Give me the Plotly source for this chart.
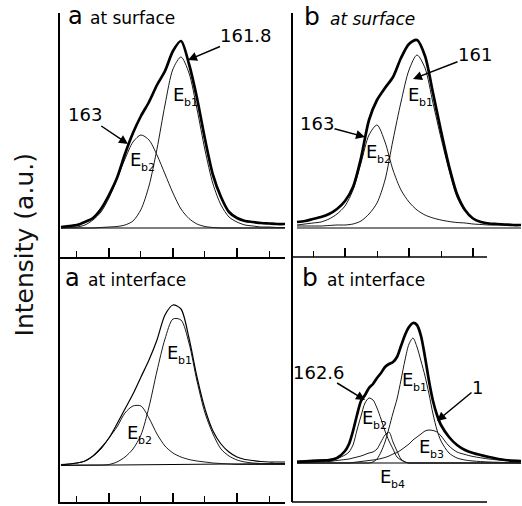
import plotly.graph_objects as go

W, H = 522, 506

# ---------------- data (binding energy, eV ; intensity, a.u.) ----------------
ENERGY = [165.5, 165.25, 165.0, 164.75, 164.5, 164.25, 164.0, 163.75, 163.5, 163.25,
          163.0, 162.75, 162.5, 162.25, 162.0, 161.75, 161.5, 161.25, 161.0, 160.75,
          160.5, 160.25, 160.0, 159.75, 159.5, 159.25, 159.0, 158.75, 158.5]

# a at surface
A_SURF_ENV = [1, 2, 3, 6, 10, 19, 33, 50, 74, 95, 112, 126, 143, 157, 177, 187, 164, 130,
              89, 53, 31, 16, 10, 7, 6, 5, 4.5, 4, 4]
A_SURF_EB1 = [0, 0, 0, 0, 0, 0.5, 1, 1.5, 3, 7, 18.5, 42, 79, 123, 159, 171, 155, 119,
              78, 44, 23, 11, 6, 3, 2, 1, 1, 0.5, 0.5]
A_SURF_EB2 = [0, 0.5, 1, 3, 8, 16, 30, 49, 69, 86, 93, 88, 73, 54, 35, 19, 9.5, 4,
              1.5, 0.5, 0, 0, 0, 0, 0, 0, 0, 0, 0]
A_SURF_BASE = [0, 0]

# b at surface
B_SURF_ENV = [6, 7, 9, 11, 14, 19, 27, 41, 70, 108, 128, 140, 151, 170, 184, 188, 172, 135,
              97, 62, 34, 18, 9.5, 6, 4.5, 4, 3.5, 3, 3]
B_SURF_EB1 = [2, 2, 2, 2, 2.5, 3, 3, 4, 7, 14, 25, 48, 88, 126, 158, 173, 160, 125,
              90, 58, 31, 17, 10, 6, 4, 3.5, 3, 3, 3]
B_SURF_EB2 = [3, 4, 5, 6, 9, 14, 22, 38, 65, 93, 103, 86, 58, 38, 26, 18, 13, 10,
              8, 6.5, 5.5, 5, 4, 3.5, 3, 3, 3, 3, 3]
B_SURF_BASE = [0, 0]

# a at interface
A_INT_ENV = [0, 1, 2, 4, 9, 17, 27, 41, 56, 71, 88, 105, 125, 150, 160, 156, 127, 88,
             56, 34, 21, 13, 8, 5.5, 4.5, 3.5, 3, 3, 3]
A_INT_EB1 = [0, 0, 0, 0, 0, 0, 0.5, 3, 8, 16, 30, 58, 94, 126, 146, 145, 122, 84,
             52, 31, 16, 9, 5, 3, 2, 1.5, 1, 1, 1]
A_INT_EB2 = [0.5, 1, 2, 4, 9, 16, 27, 38, 52, 59, 59, 47, 31, 19, 12, 8, 5.5, 4,
             3, 2, 1.5, 1, 0.5, 0.5, 0.5, 0.5, 0.5, 0.5, 0.5]
A_INT_BASE = [-0.5, 1.5]

# b at interface (finer energy grid around the peaks)
ENERGY_BI = [165.5, 165.0, 164.5, 164.25, 164.0, 163.875, 163.75, 163.625, 163.5, 163.375,
             163.25, 163.125, 163.0, 162.875, 162.75, 162.625, 162.5, 162.375, 162.25, 162.125,
             162.0, 161.875, 161.75, 161.625, 161.5, 161.375, 161.25, 161.125, 161.0, 160.75,
             160.5, 160.25, 160.0, 159.5, 159.0, 158.5]
B_INT_ENV = [1, 2, 3, 5, 12, 19, 32, 48, 62, 68, 75, 79, 85, 90, 96, 99, 101, 106, 117, 128,
             136, 140, 138, 127, 106, 82, 62, 48, 38, 26, 18, 13, 10, 6, 3, 2]
B_INT_EB1 = [0, 0, 0, 0, 0, 0, 0, 0, 0, 0, 0, 1, 4, 11, 21, 35, 50, 64, 83, 103,
             119, 125, 116, 102, 87, 69, 49, 33, 22, 10, 5, 3, 2, 1, 0.5, 0]
B_INT_EB2 = [2, 3, 3.5, 4.5, 8, 11, 18, 33, 47, 60, 65, 63, 55, 44, 32, 22, 14, 6, 3, 1,
             0, 0, 0, 0, 0, 0, 0, 0, 0, 0, 0, 0, 0, 0, 0, 0]
B_INT_EB3 = [0, 0, 0, 0, 0, 0, 0.5, 1, 1.5, 2, 2.5, 3, 3.5, 4.5, 5.5, 7, 9, 10.5, 13, 16,
             19, 23, 26, 29, 32, 33, 32.5, 31, 27, 17, 11, 8.5, 6.5, 4, 2.5, 2]
B_INT_EB4 = [0.5, 1, 1.5, 2.5, 3.5, 4, 5, 6, 7, 8.5, 10, 11, 14, 21, 28, 31, 21, 12, 4, 1,
             0, 0, 0, 0, 0, 0, 0, 0, 0, 0, 0, 0, 0, 0, 0, 0]
B_INT_BASE = [0, 0]

MAJOR_TICKS = [164, 162, 160]
MINOR_TICKS_L = [165, 163, 161, 159]
MINOR_TICKS_R = [165, 163, 161]

FONT = "DejaVu Sans"
BLACK = "#000000"
THIN_C = "#1a1a1a"
THICK, THIN = 2.7, 1.0


def fx(px):
    return px / W


def fy(py):
    return 1 - py / H


fig = go.Figure()


def curve(x, y, xa, ya, width, color=BLACK):
    fig.add_trace(go.Scatter(x=x, y=y, xaxis=xa, yaxis=ya, mode="lines",
                             line=dict(color=color, width=width, shape="spline", smoothing=0.8),
                             hoverinfo="skip", showlegend=False))


ends = [ENERGY[0], ENERGY[-1]]
# panel a at surface
curve(ends, A_SURF_BASE, "x", "y", 1.2)
curve(ENERGY, A_SURF_EB2, "x", "y", THIN, THIN_C)
curve(ENERGY, A_SURF_EB1, "x", "y", THIN, THIN_C)
curve(ENERGY, A_SURF_ENV, "x", "y", THICK)
# panel b at surface
curve(ends, B_SURF_BASE, "x2", "y2", 1.2)
curve(ENERGY, B_SURF_EB2, "x2", "y2", THIN, THIN_C)
curve(ENERGY, B_SURF_EB1, "x2", "y2", THIN, THIN_C)
curve(ENERGY, B_SURF_ENV, "x2", "y2", THICK)
# panel a at interface
curve(ends, A_INT_BASE, "x3", "y3", 1.1)
curve(ENERGY, A_INT_EB2, "x3", "y3", THIN, THIN_C)
curve(ENERGY, A_INT_EB1, "x3", "y3", THIN, THIN_C)
curve(ENERGY, A_INT_ENV, "x3", "y3", 1.2)
# panel b at interface
curve([ENERGY_BI[0], ENERGY_BI[-1]], B_INT_BASE, "x4", "y4", 1.2)
curve(ENERGY_BI, B_INT_EB4, "x4", "y4", THIN, THIN_C)
curve(ENERGY_BI, B_INT_EB3, "x4", "y4", THIN, THIN_C)
curve(ENERGY_BI, B_INT_EB2, "x4", "y4", THIN, THIN_C)
curve(ENERGY_BI, B_INT_EB1, "x4", "y4", THIN, THIN_C)
curve(ENERGY_BI, B_INT_ENV, "x4", "y4", THICK)

XL = [fx(60), fx(285)]
XR = [fx(293), fx(521)]
YT = [fy(257), fy(13)]
YB = [fy(502), fy(257)]


def xax(domain, anchor, rng, minor_vals, line, ticks=True):
    d = dict(domain=domain, anchor=anchor, range=rng, showgrid=False, zeroline=False,
             showticklabels=False, showline=line, linecolor=BLACK, linewidth=1.6)
    if ticks:
        d.update(ticks="inside", tickmode="array", tickvals=MAJOR_TICKS, ticklen=9,
                 tickwidth=1.5, tickcolor=BLACK,
                 minor=dict(ticks="inside", tickmode="array", tickvals=minor_vals,
                            ticklen=6, tickwidth=1.3, tickcolor=BLACK))
    else:
        d.update(ticks="")
    return d


def yax(domain, anchor, rng):
    return dict(domain=domain, anchor=anchor, range=rng, showgrid=False, zeroline=False,
                showticklabels=False, ticks="", showline=True, linecolor=BLACK, linewidth=1.8)


RL = [165.53, 158.5]
RR = [165.625, 158.5]

annotations = []


def label(text, x, baseline, size, italic=False):
    if italic:
        text = "<i>" + text + "</i>"
    annotations.append(dict(text=text, xref="paper", yref="paper", x=fx(x),
                            y=fy(baseline - 0.928 * size),
                            xanchor="left", yanchor="top", showarrow=False, borderpad=0,
                            font=dict(family=FONT, size=size, color=BLACK)))


def elabel(sub, x, baseline):
    label("E", x - 1.8, baseline, 18)
    label(sub, x + 8.5, baseline + 5, 11)


def pointer(text, xa, ya, x, y, ax, ay):
    annotations.append(dict(text=text, xref=xa, yref=ya, x=x, y=y, ax=ax, ay=ay,
                            showarrow=True, arrowhead=2, arrowsize=1.2, arrowwidth=1.5,
                            arrowcolor=BLACK, standoff=0, startstandoff=0, borderpad=0,
                            font=dict(family=FONT, size=18, color=BLACK)))


# panel titles
label("a", 67, 23.5, 24)
label("at surface", 89, 23, 17)
label("b", 303, 24, 25)
label("at surface", 329, 24, 17, italic=True)
label("a", 64, 285, 24)
label("at interface", 87, 285, 17)
label("b", 301, 285, 25)
label("at interface", 326, 285, 17)

# peak positions with pointers
pointer("161.8", "x", "y", 161.53, 168, 58, -24.5)
pointer("163", "x", "y", 163.406, 84, -43, -29)
pointer("161", "x2", "y2", 161.875, 149, 62, -24)
pointer("163", "x2", "y2", 163.375, 91, -48, -13)
pointer("162.6", "x4", "y4", 163.375, 63, -46, -28)
pointer("1", "x4", "y4", 161.125, 42, 40.5, -33.5)

# component labels
elabel("b1", 174, 100)
elabel("b2", 131, 165)
elabel("b1", 409, 100)
elabel("b2", 367, 157)
elabel("b1", 168, 358)
elabel("b2", 128, 438)
elabel("b1", 403, 385)
elabel("b2", 363, 423)
elabel("b3", 420, 452)
elabel("b4", 381, 482)

# y title
annotations.append(dict(text="Intensity (a.u.)", xref="paper", yref="paper",
                        x=fx(24.4), y=fy(245), xanchor="center", yanchor="middle",
                        textangle=-90, showarrow=False,
                        font=dict(family=FONT, size=25, color="#111111")))

shapes = [
    dict(type="line", xref="paper", yref="paper", x0=fx(292), x1=fx(487),
         y0=fy(257), y1=fy(257), line=dict(color=BLACK, width=1.6)),
    dict(type="line", xref="paper", yref="paper", x0=fx(292), x1=fx(487),
         y0=fy(502), y1=fy(502), line=dict(color=BLACK, width=1.6)),
]

fig.update_layout(
    width=W, height=H, margin=dict(l=0, r=0, t=0, b=0),
    paper_bgcolor="white", plot_bgcolor="white",
    font=dict(family=FONT, color=BLACK),
    hovermode=False,
    xaxis=xax(XL, "y", RL, MINOR_TICKS_L, True),
    yaxis=yax(YT, "x", [-29, 215]),
    xaxis2=xax(XR, "y2", RR, MINOR_TICKS_R, False),
    yaxis2=yax(YT, "x2", [-29, 215]),
    xaxis3=xax(XL, "y3", RL, MINOR_TICKS_L, True),
    yaxis3=yax(YB, "x3", [-37, 208]),
    xaxis4=xax(XR, "y4", RR, MINOR_TICKS_R, False, ticks=False),
    yaxis4=yax(YB, "x4", [-39, 206]),
    annotations=annotations,
    shapes=shapes,
)

# the page body has a default 8px margin; remove it so the figure fills the window
fig.write_html("out.html",
               config={"displayModeBar": False},
               post_script="document.body.style.margin='0';document.body.style.overflow='hidden';")
